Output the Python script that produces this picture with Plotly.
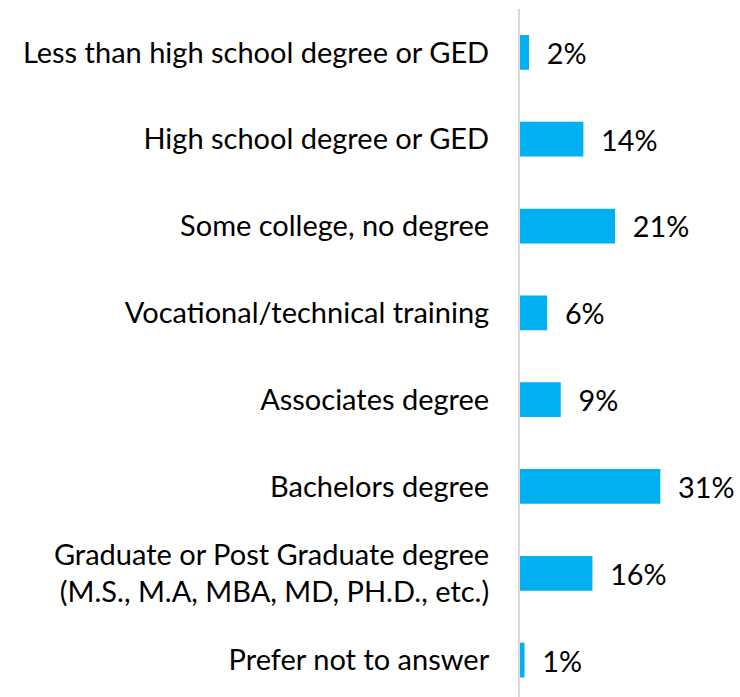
import plotly.graph_objects as go

categories = [
    "Less than high school degree or GED",
    "High school degree or GED",
    "Some college, no degree",
    "Vocational/technical training",
    "Associates degree",
    "Bachelors degree",
    "Graduate or Post Graduate degree<br>(M.S., M.A, MBA, MD, PH.D., etc.)",
    "Prefer not to answer",
]
values = [2, 14, 21, 6, 9, 31, 16, 1]

FONT = "Lato, Carlito, Calibri, sans-serif"

fig = go.Figure(
    go.Bar(
        x=values,
        y=categories,
        orientation="h",
        marker=dict(color="#00B0F0", line=dict(width=0)),
        width=0.4,
        text=values,
        texttemplate="\u00a0\u00a0%{x}%",
        textposition="outside",
        textfont=dict(family=FONT, size=29, color="#000000"),
        cliponaxis=False,
        hoverinfo="skip",
    )
)

fig.update_layout(
    width=740,
    height=697,
    margin=dict(l=520, r=0, t=8.5, b=0),
    paper_bgcolor="white",
    plot_bgcolor="white",
    showlegend=False,
    font=dict(family=FONT, size=29, color="#000000"),
)
fig.update_xaxes(range=[0, 48.6], visible=False)
fig.update_yaxes(
    range=[7.425, -0.5],
    showline=True,
    linecolor="#D9D9D9",
    linewidth=2,
    showgrid=False,
    ticks="",
    ticklabelstandoff=23,
    tickfont=dict(family=FONT, size=29, color="#000000"),
)

fig.write_html(
    "out.html",
    config={"displayModeBar": False},
    post_script="document.body.style.margin='0';document.body.style.overflow='hidden';",
)
